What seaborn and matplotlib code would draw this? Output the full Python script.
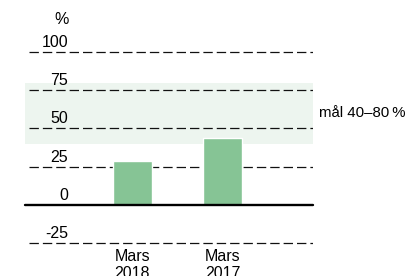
import matplotlib
matplotlib.use("Agg")
import matplotlib.pyplot as plt
import matplotlib.transforms as mtransforms
import seaborn as sns
import pandas as pd

# values
categories = ["Mars\n2018", "Mars\n2017"]
values = [29, 44]
yticks = [100, 75, 50, 25, 0, -25]
goal_low, goal_high = 40, 80
goal_label = "mål 40\u201380\u2009%"

bar_color = "#86c495"
band_color = "#edf5ef"

sns.set_style("white")
plt.rcParams["font.family"] = ["Liberation Sans Narrow", "Liberation Sans", "DejaVu Sans"]
plt.rcParams["font.size"] = 11.5
plt.rcParams["text.color"] = "black"
plt.rcParams["xtick.color"] = "black"

fig = plt.figure(figsize=(4.08, 2.76), dpi=100)
ax = fig.add_axes([25 / 408, 0.108, 288 / 408, 0.759])

df = pd.DataFrame({"period": categories, "value": values})
sns.barplot(data=df, x="period", y="value", order=categories, color=bar_color,
            saturation=1, width=0.433, ax=ax, zorder=3)

ax.set_xlim(-1.194, 2.006)
ax.set_ylim(-27, 110)

# goal band
ax.axhspan(goal_low, goal_high, color=band_color, zorder=0, lw=0)

# dashed grid lines with labels sitting on them
trans = mtransforms.blended_transform_factory(ax.transAxes, ax.transData)
for t in yticks:
    if t == 0:
        ax.axhline(0, color="black", lw=1.7, zorder=4, clip_on=False)
    else:
        ax.axhline(t, xmin=0.014, xmax=1, color="#111111", lw=0.9,
                   dashes=(7.5, 3.2), zorder=1)
    ax.text(43 / 288, t + 1.3, str(t), transform=trans, ha="right", va="bottom",
            zorder=5)

fig.text(62 / 408, 1 - 20 / 276, "%", ha="center", va="center")
ax.text(1.022, (goal_low + goal_high) / 2, goal_label, transform=trans,
        ha="left", va="center", fontsize=10.8)

ax.set_yticks([])
ax.set_xlabel("")
ax.set_ylabel("")
ax.tick_params(axis="x", length=0, pad=2)
for lbl in ax.get_xticklabels():
    lbl.set_linespacing(1.2)
sns.despine(ax=ax, left=True, bottom=True)

fig.savefig("out.png", dpi=100)
